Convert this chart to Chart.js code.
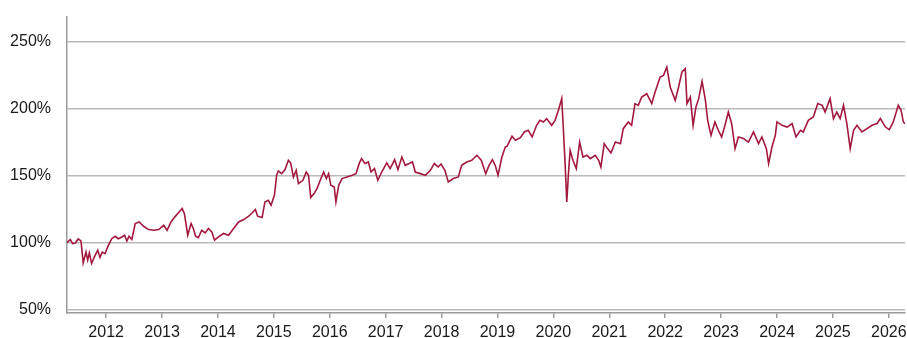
<!DOCTYPE html>
<html>
<head>
<meta charset="utf-8">
<title>Cumulative performance</title>
<script src="https://cdn.jsdelivr.net/npm/chart.js@4.4.1/dist/chart.umd.min.js"></script>
<style>
    html, body { margin: 0; padding: 0; background: #ffffff; }
    #perf-chart { display: block; }
</style>
</head>
<body>
<canvas id="perf-chart" width="907" height="338"></canvas>
<script>
// Dates as decimal years, values as cumulative performance (start = 100%)
const dates = [
    2011.30, 2011.36, 2011.40, 2011.45, 2011.50, 2011.55, 2011.59, 2011.64, 2011.67, 2011.70,
    2011.74, 2011.79, 2011.85, 2011.89, 2011.93, 2011.98, 2012.04, 2012.10, 2012.16, 2012.22,
    2012.28, 2012.33, 2012.37, 2012.41, 2012.46, 2012.52, 2012.59, 2012.67, 2012.76, 2012.85,
    2012.94, 2013.03, 2013.09, 2013.16, 2013.23, 2013.29, 2013.36, 2013.40, 2013.46, 2013.52,
    2013.56, 2013.60, 2013.65, 2013.71, 2013.77, 2013.83, 2013.89, 2013.94, 2014.01, 2014.10,
    2014.19, 2014.28, 2014.37, 2014.46, 2014.55, 2014.61, 2014.67, 2014.71, 2014.79, 2014.84,
    2014.90, 2014.95, 2015.01, 2015.05, 2015.08, 2015.14, 2015.20, 2015.26, 2015.30, 2015.35,
    2015.40, 2015.44, 2015.52, 2015.58, 2015.62, 2015.66, 2015.72, 2015.78, 2015.83, 2015.89,
    2015.94, 2015.98, 2016.02, 2016.08, 2016.11, 2016.16, 2016.22, 2016.31, 2016.40, 2016.47,
    2016.53, 2016.57, 2016.63, 2016.69, 2016.74, 2016.80, 2016.86, 2016.93, 2017.02, 2017.08,
    2017.16, 2017.22, 2017.29, 2017.35, 2017.42, 2017.48, 2017.53, 2017.62, 2017.71, 2017.80,
    2017.87, 2017.94, 2017.99, 2018.06, 2018.12, 2018.21, 2018.30, 2018.36, 2018.45, 2018.54,
    2018.63, 2018.71, 2018.79, 2018.85, 2018.91, 2018.96, 2019.01, 2019.08, 2019.14, 2019.17,
    2019.26, 2019.32, 2019.41, 2019.48, 2019.55, 2019.62, 2019.70, 2019.76, 2019.82, 2019.88,
    2019.97, 2020.03, 2020.09, 2020.15, 2020.18, 2020.21, 2020.24, 2020.27, 2020.30, 2020.35,
    2020.41, 2020.47, 2020.53, 2020.60, 2020.66, 2020.75, 2020.81, 2020.85, 2020.91, 2020.97,
    2021.03, 2021.11, 2021.20, 2021.25, 2021.34, 2021.40, 2021.46, 2021.52, 2021.58, 2021.67,
    2021.76, 2021.82, 2021.91, 2021.97, 2022.03, 2022.09, 2022.18, 2022.24, 2022.30, 2022.36,
    2022.39, 2022.45, 2022.50, 2022.55, 2022.60, 2022.66, 2022.72, 2022.76, 2022.82, 2022.89,
    2022.95, 2023.01, 2023.07, 2023.13, 2023.19, 2023.25, 2023.31, 2023.40, 2023.49, 2023.58,
    2023.67, 2023.73, 2023.81, 2023.85, 2023.91, 2023.97, 2024.00, 2024.09, 2024.18, 2024.27,
    2024.34, 2024.42, 2024.47, 2024.56, 2024.65, 2024.73, 2024.81, 2024.86, 2024.95, 2025.01,
    2025.07, 2025.13, 2025.19, 2025.25, 2025.31, 2025.37, 2025.43, 2025.52, 2025.61, 2025.70,
    2025.79, 2025.85, 2025.94, 2026.01, 2026.08, 2026.17, 2026.22, 2026.26, 2026.29
];

const performance = [
    100.0, 102.4, 99.4, 99.8, 102.8, 101.3, 84.9, 93.1, 87.0, 92.4,
    84.5, 89.4, 94.4, 89.0, 93.0, 91.8, 98.0, 103.0, 104.8, 103.0,
    104.3, 105.6, 101.3, 104.8, 102.4, 114.3, 115.5, 112.3, 109.8, 109.3,
    109.8, 113.0, 109.3, 115.5, 119.3, 122.2, 125.5, 121.7, 105.6, 114.3,
    110.6, 104.8, 103.8, 109.3, 107.3, 110.6, 108.1, 101.9, 104.3, 106.9,
    105.6, 110.6, 115.5, 117.3, 119.8, 122.2, 124.8, 119.8, 118.8, 130.4,
    131.7, 128.0, 135.4, 150.4, 153.6, 151.6, 154.6, 161.6, 159.6, 149.1,
    154.1, 144.2, 146.6, 152.8, 150.4, 133.7, 136.7, 141.2, 146.6, 152.8,
    147.9, 151.6, 142.9, 141.6, 130.4, 142.9, 147.9, 149.1, 150.4, 151.6,
    159.6, 162.8, 159.1, 160.3, 152.8, 155.4, 146.6, 152.8, 159.6, 155.4,
    162.1, 154.6, 164.0, 157.8, 159.1, 160.3, 152.8, 151.6, 150.4, 154.1,
    159.1, 156.6, 158.8, 154.1, 145.4, 147.9, 149.1, 157.8, 160.3, 161.6,
    165.3, 161.6, 151.6, 157.8, 162.1, 157.8, 150.4, 164.0, 171.5, 172.0,
    179.5, 176.5, 178.5, 182.7, 184.0, 179.0, 187.7, 191.4, 190.2, 192.7,
    187.7, 191.4, 198.9, 207.6, 184.0, 159.1, 130.4, 151.6, 169.0, 161.6,
    155.4, 175.2, 164.0, 165.3, 162.8, 165.3, 161.6, 156.6, 174.0, 170.3,
    167.1, 175.2, 174.0, 185.2, 190.2, 187.7, 203.9, 202.6, 208.8, 211.3,
    203.9, 212.5, 223.7, 225.0, 231.2, 216.3, 206.3, 216.3, 227.5, 230.0,
    203.9, 208.8, 187.7, 201.3, 207.6, 220.5, 206.3, 191.4, 180.2, 190.2,
    184.0, 179.0, 187.7, 197.6, 188.9, 170.3, 179.0, 177.8, 175.2, 182.7,
    174.0, 179.0, 170.3, 159.1, 171.5, 180.2, 190.2, 187.7, 186.4, 189.0,
    179.0, 184.0, 182.7, 191.4, 193.9, 203.9, 202.6, 197.6, 207.6, 192.7,
    197.6, 192.7, 202.6, 189.0, 170.3, 184.0, 187.7, 182.7, 185.2, 187.7,
    189.0, 192.7, 186.4, 184.5, 190.2, 202.6, 198.9, 190.2, 189.0
];

const yearTicks = [2012, 2013, 2014, 2015, 2016, 2017, 2018, 2019, 2020, 2021, 2022, 2023, 2024, 2025, 2026];
const percentTicks = [50, 100, 150, 200, 250];

const lineColor = '#A3193D';
const gridColor = '#b9b9b9';
const axisColor = '#9a9a9a';
const fontFamily = '"Liberation Sans", Arial, sans-serif';

const points = dates.map((d, i) => ({ x: d, y: performance[i] }));

// Drop the extra room Chart.js reserves for the outermost tick labels
function clearEdgePadding(scale) {
    scale.paddingTop = 0;
    scale.paddingBottom = 0;
    scale.paddingLeft = 0;
    scale.paddingRight = 0;
}

const ctx = document.getElementById('perf-chart').getContext('2d');

new Chart(ctx, {
    type: 'line',
    data: {
        datasets: [{
            data: points,
            borderColor: lineColor,
            borderWidth: 1.6,
            pointRadius: 0,
            tension: 0,
            fill: false
        }]
    },
    options: {
        responsive: false,
        animation: false,
        layout: {
            padding: { top: 17, right: 2, left: 0, bottom: 0 }
        },
        plugins: {
            legend: { display: false },
            tooltip: { enabled: false }
        },
        scales: {
            x: {
                type: 'linear',
                min: 2011.30,
                max: 2026.29,
                afterBuildTicks: (scale) => {
                    scale.ticks = yearTicks.map(v => ({ value: v }));
                },
                afterFit: (scale) => {
                    scale.height = 25;
                    clearEdgePadding(scale);
                },
                grid: {
                    drawOnChartArea: false,
                    drawTicks: true,
                    tickLength: 5,
                    color: axisColor,
                    lineWidth: 1.5
                },
                border: {
                    display: true,
                    color: axisColor,
                    width: 1.5
                },
                ticks: {
                    autoSkip: false,
                    maxRotation: 0,
                    padding: 5,
                    color: '#1a1a1a',
                    font: { family: fontFamily, size: 16 },
                    callback: (value) => String(value)
                }
            },
            y: {
                type: 'linear',
                min: 47.5,
                max: 268.6,
                afterBuildTicks: (scale) => {
                    scale.ticks = percentTicks.map(v => ({ value: v }));
                },
                afterFit: (scale) => {
                    scale.width = 67;
                    clearEdgePadding(scale);
                },
                grid: {
                    drawTicks: false,
                    color: gridColor,
                    lineWidth: 1.5
                },
                border: {
                    display: true,
                    color: axisColor,
                    width: 1.5
                },
                ticks: {
                    padding: 16,
                    color: '#1a1a1a',
                    font: { family: fontFamily, size: 16 },
                    callback: (value) => value + '%'
                }
            }
        }
    }
});
</script>
</body>
</html>
